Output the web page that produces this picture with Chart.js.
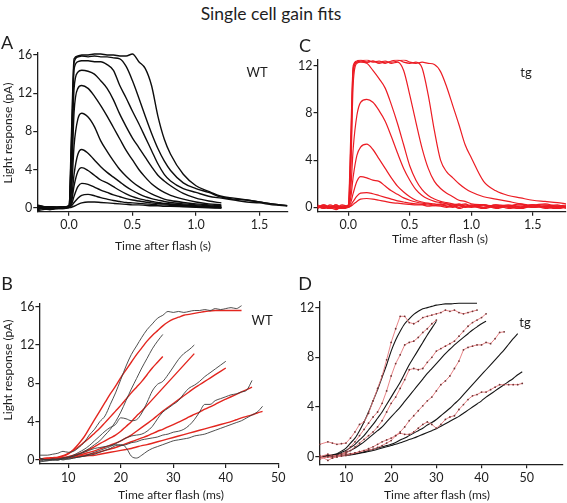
<!DOCTYPE html>
<html lang="en">
<head>
<meta charset="UTF-8">
<title>Single cell gain fits</title>
<script src="https://cdn.jsdelivr.net/npm/chart.js"></script>
<style>
  body { margin: 0; background: #fff; font-family: 'Lato', sans-serif; color: #1e1e1e; }
  #page { position: relative; width: 567px; height: 503px; overflow: hidden; background: #fff; }
  canvas { position: absolute; }
  .lbl { position: absolute; line-height: 1; white-space: nowrap; transform: translate(-50%, -50%); }
  .ttl { font-size: 17.5px; }
  .letter { font-size: 18px; }
  .tag { font-size: 13px; }
  .ax { font-size: 12px; }
  .rot { transform: translate(-50%, -50%) rotate(-90deg); }
</style>
</head>
<body>
<div id="page">
  <canvas id="chartA"></canvas>
  <canvas id="chartC"></canvas>
  <canvas id="chartB"></canvas>
  <canvas id="chartD"></canvas>

  <div class="lbl ttl" style="left:271px;top:14px">Single cell gain fits</div>
  <div class="lbl letter" style="left:7px;top:41.5px">A</div>
  <div class="lbl letter" style="left:305px;top:45px">C</div>
  <div class="lbl letter" style="left:7px;top:282.5px">B</div>
  <div class="lbl letter" style="left:305px;top:282.5px">D</div>
  <div class="lbl tag" style="left:257px;top:72px">WT</div>
  <div class="lbl tag" style="left:526px;top:72px">tg</div>
  <div class="lbl tag" style="left:262px;top:320px">WT</div>
  <div class="lbl tag" style="left:525px;top:322px">tg</div>
  <div class="lbl ax" style="left:163px;top:246px">Time after flash (s)</div>
  <div class="lbl ax" style="left:440px;top:239px">Time after flash (s)</div>
  <div class="lbl ax" style="left:171px;top:495px">Time after flash (ms)</div>
  <div class="lbl ax" style="left:437px;top:495px">Time after flash (ms)</div>
  <div class="lbl ax rot" style="left:8px;top:133px">Light response (pA)</div>
  <div class="lbl ax rot" style="left:8px;top:370px">Light response (pA)</div>
</div>
<script>
// ---- A: WT flash family (s, pA) ----
const tA = [-0.25, -0.15, -0.05, 0, 0.02, 0.04, 0.07, 0.1, 0.15, 0.2, 0.25, 0.3, 0.35, 0.4, 0.45, 0.5, 0.55, 0.6, 0.65, 0.7, 0.75, 0.8, 0.9, 1.0, 1.1, 1.2, 1.3, 1.4, 1.5, 1.6, 1.72];
const wt1 = [0.3, 0.0, -0.1, 0.0, 0.05, 0.15, 0.35, 0.5, 0.6, 0.6, 0.55, 0.5, 0.45, 0.4, 0.35, 0.3, 0.3, 0.25, 0.2, 0.2, 0.15, 0.15, 0.1, 0.05, 0.0, -0.05, null, null, null, null, null];
const wt2 = [-0.2, 0.1, 0.0, 0.05, 0.2, 0.55, 1.0, 1.3, 1.4, 1.25, 1.05, 0.9, 0.75, 0.65, 0.55, 0.5, 0.45, 0.4, 0.35, 0.3, 0.3, 0.25, 0.2, 0.1, 0.05, 0.0, null, null, null, null, null];
const wt3 = [0.0, -0.2, 0.1, 0.05, 0.35, 1.2, 2.2, 2.55, 2.45, 2.15, 1.85, 1.6, 1.35, 1.15, 0.95, 0.8, 0.7, 0.6, 0.5, 0.45, 0.4, 0.35, 0.25, 0.15, 0.1, 0.0, null, null, null, null, null];
const wt4 = [-0.3, -0.1, 0.0, 0.1, 0.6, 2.3, 3.8, 4.2, 3.9, 3.4, 2.9, 2.6, 2.2, 1.8, 1.45, 1.15, 0.95, 0.8, 0.65, 0.55, 0.45, 0.4, 0.3, 0.2, 0.1, 0.05, null, null, null, null, null];
const wt5 = [0.1, -0.2, 0.0, 0.1, 0.9, 3.5, 5.6, 6.1, 5.7, 5.0, 4.3, 3.7, 3.2, 2.7, 2.2, 1.8, 1.45, 1.15, 0.95, 0.8, 0.65, 0.55, 0.4, 0.3, 0.2, 0.1, null, null, null, null, null];
const wt6 = [0.2, 0.0, -0.1, 0.1, 1.8, 6.5, 9.3, 9.9, 9.5, 8.5, 7.0, 5.9, 4.9, 4.0, 3.3, 2.7, 2.2, 1.8, 1.45, 1.15, 0.9, 0.75, 0.55, 0.4, 0.3, 0.2, null, null, null, null, null];
const wt7 = [-0.1, 0.1, 0.0, 0.15, 3.0, 10.0, 12.5, 12.8, 12.5, 11.7, 10.7, 9.6, 8.4, 7.2, 6.0, 5.0, 4.0, 3.2, 2.5, 2.0, 1.6, 1.3, 0.9, 0.6, 0.4, 0.3, null, null, null, null, null];
const wt8 = [0.0, -0.1, 0.1, 0.2, 4.5, 12.5, 14.2, 14.4, 14.3, 14.0, 13.3, 12.5, 11.3, 9.8, 8.5, 7.3, 6.3, 5.3, 4.3, 3.4, 2.8, 2.3, 1.5, 1.0, 0.7, 0.5, null, null, null, null, null];
const wt9 = [0.1, 0.0, 0.0, 0.2, 6.0, 14.5, 15.3, 15.4, 15.4, 15.3, 15.3, 15.0, 14.4, 12.8, 11.5, 10.1, 8.8, 7.4, 6.0, 4.6, 3.5, 2.8, 2.0, 1.6, 1.2, 1.0, 0.8, 0.6, 0.5, 0.3, 0.2];
const wt10 = [-0.2, 0.1, 0.0, 0.1, 7.0, 15.2, 15.8, 15.9, 15.8, 15.9, 15.8, 15.8, 15.7, 15.6, 14.8, 13.3, 11.5, 9.6, 7.8, 6.2, 4.9, 3.9, 2.6, 2.0, 1.6, 1.1, 0.9, 0.8, 0.6, 0.4, 0.2];
const wt11 = [0.2, 0.0, 0.1, 0.2, 8.0, 15.6, 15.9, 16.0, 16.0, 16.1, 16.1, 16.0, 16.0, 15.9, 15.9, 16.1, 15.3, 14.6, 12.8, 9.6, 7.2, 5.6, 3.5, 2.3, 1.7, 1.2, 1.0, 0.8, 0.6, 0.4, 0.2];

// ---- C: tg flash family (s, pA) ----
const tC = [-0.25, -0.2, -0.15, -0.1, -0.05, 0, 0.02, 0.04, 0.07, 0.1, 0.15, 0.2, 0.25, 0.3, 0.35, 0.4, 0.45, 0.5, 0.55, 0.6, 0.65, 0.7, 0.75, 0.8, 0.85, 0.9, 0.95, 1.0, 1.1, 1.2, 1.3, 1.4, 1.5, 1.6, 1.7, 1.77];
const tg1 = [0.1, -0.1, 0.2, 0.0, -0.1, 0.0, 0.1, 0.25, 0.5, 0.7, 0.75, 0.7, 0.6, 0.5, 0.4, 0.35, 0.3, 0.25, 0.2, 0.2, 0.1, 0.15, 0.1, 0.0, 0.1, -0.1, 0.05, 0.1, -0.1, 0.1, 0.0, -0.1, 0.1, 0.0, -0.1, 0.0];
const tg2 = [-0.1, 0.2, 0.0, -0.2, 0.1, 0.0, 0.2, 0.5, 0.95, 1.2, 1.25, 1.15, 1.0, 0.85, 0.7, 0.55, 0.45, 0.35, 0.3, 0.25, 0.2, 0.15, 0.2, 0.1, 0.0, 0.15, 0.05, 0.0, 0.2, -0.1, 0.1, 0.0, 0.2, -0.1, 0.1, 0.0];
const tg3 = [0.2, 0.0, -0.1, 0.1, 0.0, 0.1, 0.4, 1.2, 2.2, 2.6, 2.5, 2.3, 2.2, 1.8, 1.4, 1.1, 0.8, 0.6, 0.45, 0.35, 0.3, 0.2, 0.3, 0.1, 0.2, 0.0, 0.2, 0.1, 0.0, 0.2, -0.1, 0.1, 0.0, 0.1, 0.2, -0.1];
const tg4 = [0.0, 0.1, 0.0, 0.2, -0.1, 0.1, 0.8, 2.6, 4.4, 5.1, 5.35, 4.9, 4.1, 3.3, 2.5, 1.8, 1.3, 0.9, 0.6, 0.45, 0.35, 0.3, 0.2, 0.3, 0.1, 0.2, 0.0, 0.1, 0.2, 0.0, 0.1, 0.3, 0.0, 0.1, -0.1, 0.1];
const tg5 = [0.1, -0.1, 0.1, 0.0, 0.2, 0.1, 1.5, 5.0, 7.8, 8.9, 9.15, 8.9, 8.2, 7.3, 6.0, 4.6, 3.3, 2.3, 1.5, 1.0, 0.7, 0.5, 0.4, 0.3, 0.2, 0.3, 0.1, 0.2, 0.0, 0.2, 0.1, -0.1, 0.2, 0.0, 0.1, 0.0];
const tg6 = [-0.1, 0.1, 0.0, 0.1, 0.0, 0.2, 3.0, 10.5, 12.2, 12.3, 12.2, 11.6, 10.9, 10.1, 8.7, 7.1, 5.3, 3.5, 2.3, 1.5, 1.0, 0.7, 0.5, 0.4, 0.3, 0.2, 0.3, 0.1, 0.2, 0.0, 0.1, 0.2, 0.0, 0.1, 0.0, 0.1];
const tg7 = [0.0, 0.2, -0.1, 0.0, 0.1, 0.1, 4.0, 11.5, 12.3, 12.4, 12.3, 12.4, 12.3, 12.4, 12.2, 12.3, 11.6, 9.5, 7.2, 5.0, 3.3, 2.2, 1.6, 1.2, 0.9, 0.6, 0.5, 0.3, 0.2, 0.1, 0.2, 0.0, 0.1, 0.2, 0.0, 0.1];
const tg8 = [0.1, 0.0, 0.1, -0.1, 0.0, 0.1, 5.0, 11.8, 12.3, 12.4, 12.5, 12.3, 12.4, 12.2, 12.4, 12.5, 12.3, 12.2, 12.3, 11.8, 9.5, 6.5, 4.0, 3.0, 2.5, 2.0, 1.6, 1.3, 0.9, 0.7, 0.5, 0.3, 0.2, 0.3, 0.1, 0.2];
const tg9 = [0.0, 0.1, 0.0, 0.2, 0.0, 0.1, 6.0, 12.0, 12.4, 12.5, 12.3, 12.4, 12.2, 12.3, 12.3, 12.4, 12.5, 12.3, 12.2, 12.3, 12.2, 12.1, 11.5, 10.2, 8.6, 7.0, 5.3, 4.2, 2.2, 1.4, 1.0, 0.8, 0.6, 0.5, 0.4, 0.3];

// ---- B: WT rising phase, records and fits (ms, pA) ----
const tB = [4.5, 6, 7, 8, 9, 10, 11, 12, 13, 14, 15, 16, 17, 18, 19, 20, 21, 22, 23, 24, 25, 26, 27, 28, 29, 30, 31, 32, 33, 34, 35, 36, 37, 38, 39, 40, 41, 42, 43, 44, 45, 46, 47];
const wtRec1 = [0.5, 0.5, 0.6, 0.7, 0.9, 0.8, 0.9, 1.3, 1.8, 2.6, 3.2, 4.0, 4.6, 5.8, 7.0, 8.4, 9.8, 11.0, 11.9, 12.8, 13.6, 14.2, 14.8, 15.1, 15.5, 15.4, 15.5, 15.4, 15.5, 15.6, 15.6, 15.7, 15.6, 15.8, 15.7, 15.8, 15.9, 15.8, 16.1];
const wtRec2 = [0.2, 0.0, 0.1, 0.1, 0.0, 0.2, 0.4, 0.6, 0.9, 1.2, 1.6, 2.0, 2.6, 3.2, 4.0, 5.0, 6.2, 7.4, 8.5, 9.6, 10.6, 11.6, 12.4, 13.1];
const wtRec3 = [-0.1, 0.0, 0.0, 0.1, 0.2, 0.3, 0.5, 0.8, 1.1, 1.5, 2.0, 2.5, 3.0, 3.4, 3.7, 4.4, 4.3, 4.1, 4.2, 4.9, 6.0, 7.2, 7.9, 8.2, 8.9, 9.7, 10.5, 11.1, 11.5, 12.0];
const wtRec4 = [0.1, 0.0, 0.0, 0.0, 0.1, 0.1, 0.2, 0.3, 0.4, 0.6, 0.8, 1.0, 1.2, 1.4, 1.7, 2.0, 2.3, 2.5, 2.6, 2.7, 3.0, 3.5, 4.3, 5.0, 5.4, 5.8, 6.2, 6.9, 7.5, 7.8, 8.2, 8.7, 9.1, 9.5, 9.9, 10.3];
const wtRec5 = [0.2, 0.0, 0.1, 0.0, 0.2, 0.3, 0.4, 0.6, 0.8, 1.0, 1.2, 1.3, 1.4, 1.5, 1.6, 1.5, 1.6, 1.8, 1.9, 2.1, 2.2, 2.3, 2.4, 2.6, 2.7, 2.9, 3.0, 3.2, 3.6, 4.2, 5.0, 5.8, 5.8, 6.2, 6.4, 6.6, 6.8, 6.9, 7.1, 7.3, 8.3];
const wtRec6 = [-0.2, -0.1, 0.0, 0.0, 0.1, 0.1, 0.2, 0.3, 0.4, 0.5, 0.6, 0.8, 1.0, 1.2, 1.5, 1.6, 1.3, 0.4, 0.2, 0.5, 0.9, 1.2, 1.4, 1.6, 1.8, 2.0, 2.1, 2.2, 2.3, 2.5, 2.6, 2.7, 2.9, 3.1, 3.3, 3.5, 3.7, 3.9, 4.1, 4.4, 4.7, 5.0, 5.6];
const wtFit1 = [0.1, 0.15, 0.15, 0.25, 0.4, 0.63, 1.1, 1.7, 2.4, 3.3, 4.2, 5.1, 6.0, 6.9, 7.7, 8.6, 9.4, 10.2, 11.0, 11.7, 12.4, 13.0, 13.5, 14.0, 14.4, 14.7, 14.9, 15.1, 15.2, 15.3, 15.4, 15.5, 15.55, 15.6, 15.6, 15.6, 15.6, 15.6, 15.6];
const wtFit2 = [0.1, 0.2, 0.25, 0.3, 0.45, 0.7, 1.0, 1.4, 1.85, 2.3, 2.8, 3.3, 3.9, 4.5, 5.1, 5.7, 6.35, 7.0, 7.6, 8.2, 8.9, 9.6, 10.2, 10.8];
const wtFit3 = [0.1, 0.1, 0.15, 0.2, 0.25, 0.35, 0.5, 0.65, 0.85, 1.1, 1.4, 1.7, 2.0, 2.3, 2.6, 3.0, 3.5, 4.0, 4.6, 5.1, 5.7, 6.3, 6.9, 7.5, 8.1, 8.7, 9.3, 9.9, 10.5, 11.1];
const wtFit4 = [0.05, 0.1, 0.15, 0.2, 0.25, 0.3, 0.4, 0.5, 0.65, 0.8, 0.95, 1.15, 1.35, 1.55, 1.75, 2.0, 2.3, 2.6, 3.0, 3.4, 3.8, 4.2, 4.65, 5.1, 5.5, 5.9, 6.3, 6.7, 7.1, 7.5, 7.85, 8.2, 8.55, 8.9, 9.25, 9.6];
const wtFit5 = [0.05, 0.1, 0.1, 0.15, 0.2, 0.25, 0.3, 0.4, 0.5, 0.6, 0.7, 0.85, 1.0, 1.15, 1.3, 1.5, 1.7, 1.9, 2.1, 2.3, 2.5, 2.75, 3.0, 3.2, 3.45, 3.7, 3.95, 4.2, 4.5, 4.75, 5.0, 5.3, 5.55, 5.8, 6.1, 6.35, 6.6, 6.85, 7.1, 7.35, 7.6];
const wtFit6 = [0.1, 0.1, 0.15, 0.2, 0.2, 0.25, 0.3, 0.35, 0.4, 0.45, 0.5, 0.6, 0.7, 0.8, 0.9, 1.0, 1.1, 1.2, 1.35, 1.5, 1.6, 1.75, 1.9, 2.05, 2.2, 2.35, 2.5, 2.65, 2.8, 2.95, 3.1, 3.25, 3.4, 3.55, 3.7, 3.85, 4.0, 4.2, 4.4, 4.55, 4.7, 4.9, 5.07];

// ---- D: tg rising phase, records and fits (ms, pA) ----
const tD = [4.2, 6, 7, 8, 9, 10, 11, 12, 13, 14, 15, 16, 17, 18, 19, 20, 21, 22, 23, 24, 25, 26, 27, 28, 29, 30, 31, 32, 33, 34, 35, 36, 37, 38, 39, 40, 41, 42, 43, 44, 45, 46, 47, 48, 49];
const tgRec1 = [1.0, 1.2, 1.1, 1.0, 1.05, 1.1, 1.5, 2.0, 2.6, 2.8, 3.5, 4.5, 5.5, 6.5, 7.8, 9.2, 10.3, 11.3, 11.3, 10.8, 10.7, 10.9, 11.2, 11.3, 11.4, 11.5, 11.6, 11.8, 11.7, 11.8, 11.6, 11.5, 11.6, 11.7, 11.8];
const tgRec2 = [-0.2, 0.0, -0.1, 0.0, 0.2, 0.4, 0.8, 1.2, 1.7, 2.2, 2.7, 3.2, 3.6, 4.3, 5.3, 6.5, 7.5, 8.2, 9.0, 9.2, 9.3, 9.6, 10.0, 10.3, 10.7, 11.0];
const tgRec3 = [0.0, 0.2, 0.1, 0.1, 0.2, 0.3, 0.5, 0.8, 1.1, 1.4, 1.7, 2.0, 2.4, 2.9, 3.6, 4.3, 4.8, 5.5, 6.2, 7.0, 7.1, 7.0, 7.1, 7.6, 8.0, 8.5, 8.7, 8.9, 9.1, 9.3, 9.7, 10.1, 10.5, 10.8, 11.0, 11.2, 11.5];
const tgRec4 = [-0.1, 0.0, 0.0, 0.0, 0.05, 0.1, 0.2, 0.3, 0.4, 0.5, 0.65, 0.8, 1.0, 1.2, 1.35, 1.5, 1.7, 2.0, 2.4, 2.9, 3.3, 3.7, 4.1, 4.5, 4.8, 5.3, 5.8, 6.1, 6.5, 7.1, 7.7, 8.6, 8.8, 8.9, 9.0, 9.0, 9.2, 9.1, 9.5, 10.0, 10.05];
const tgRec5 = [0.1, -0.3, -0.1, 0.0, 0.1, 0.2, 0.25, 0.3, 0.4, 0.5, 0.55, 0.6, 0.75, 0.9, 1.1, 1.3, 1.7, 1.9, 1.8, 1.8, 2.0, 2.3, 2.6, 2.8, 2.6, 2.3, 2.6, 3.0, 3.2, 3.3, 3.8, 4.2, 4.6, 4.9, 5.0, 5.2, 5.2, 5.4, 5.6, 5.8, 5.8, 5.8, 5.8, 5.8, 5.9];
const tgFit1 = [0.0, 0.1, 0.15, 0.25, 0.45, 0.7, 1.1, 1.5, 2.1, 2.8, 3.6, 4.5, 5.4, 6.4, 7.4, 8.5, 9.4, 10.1, 10.7, 11.1, 11.45, 11.7, 11.9, 12.0, 12.1, 12.2, 12.25, 12.3, 12.3, 12.33, 12.35, 12.35, 12.35, 12.35, 12.35];
const tgFit2 = [0.0, 0.05, 0.1, 0.2, 0.35, 0.5, 0.75, 1.0, 1.35, 1.7, 2.15, 2.6, 3.1, 3.6, 4.2, 4.8, 5.4, 6.0, 6.7, 7.4, 8.0, 8.6, 9.2, 9.8, 10.35, 10.9];
const tgFit3 = [0.0, 0.05, 0.1, 0.15, 0.25, 0.35, 0.5, 0.7, 0.95, 1.2, 1.5, 1.8, 2.1, 2.4, 2.8, 3.2, 3.6, 4.0, 4.45, 4.9, 5.35, 5.8, 6.25, 6.7, 7.1, 7.5, 7.9, 8.3, 8.65, 9.0, 9.3, 9.6, 9.9, 10.2, 10.45, 10.7, 10.9];
const tgFit4 = [0.0, 0.02, 0.05, 0.08, 0.1, 0.15, 0.2, 0.25, 0.3, 0.4, 0.5, 0.6, 0.7, 0.8, 0.9, 1.0, 1.15, 1.35, 1.5, 1.7, 1.9, 2.1, 2.3, 2.55, 2.75, 3.0, 3.3, 3.6, 3.9, 4.25, 4.6, 5.0, 5.4, 5.8, 6.2, 6.6, 7.0, 7.4, 7.8, 8.2, 8.6, 9.05, 9.5, 9.9];
const tgFit5 = [0.0, 0.02, 0.04, 0.06, 0.08, 0.1, 0.15, 0.2, 0.28, 0.35, 0.42, 0.5, 0.6, 0.7, 0.8, 0.9, 1.0, 1.12, 1.25, 1.38, 1.5, 1.65, 1.8, 1.95, 2.1, 2.25, 2.45, 2.65, 2.85, 3.05, 3.25, 3.5, 3.75, 4.0, 4.25, 4.5, 4.8, 5.05, 5.3, 5.55, 5.8, 6.05, 6.3, 6.6, 6.84];

// tick labels
const secTicks = [0, 0.5, 1, 1.5];
const msTicks = [10, 20, 30, 40, 50];
const wtTicks = [0, 4, 8, 12, 16];
const tgTicks = [0, 4, 8, 12];

function pts(xs, ys) {
  return ys.map((y, i) => ({ x: xs[i], y: y }));
}

function trace(xs, ys, color, width, extra) {
  return Object.assign({
    data: pts(xs, ys),
    borderColor: color,
    borderWidth: width,
    pointRadius: 0,
    fill: false,
    cubicInterpolationMode: 'monotone'
  }, extra || {});
}

const axisCol = '#1e1e1e';
const tickFont = { family: 'Lato', size: 12.5 };

// box = canvas [left, top, width, height]; area = plot [left, top, right, bottom] in page px
function panel(id, box, area, xr, yr, xTicks, yTicks, xFmt, datasets) {
  const cv = document.getElementById(id);
  cv.width = box[2];
  cv.height = box[3];
  cv.style.left = box[0] + 'px';
  cv.style.top = box[1] + 'px';
  const grid = { drawOnChartArea: false, drawTicks: true, tickLength: 4, color: axisCol, lineWidth: 1.2 };
  const border = { display: true, color: axisCol, width: 1.3 };
  return new Chart(cv, {
    type: 'line',
    data: { datasets: datasets },
    options: {
      responsive: false,
      animation: false,
      devicePixelRatio: 1,
      layout: {
        autoPadding: false,
        padding: { left: 0, top: area[1] - box[1], right: box[0] + box[2] - area[2], bottom: 0 }
      },
      plugins: { legend: { display: false }, tooltip: { enabled: false } },
      scales: {
        x: {
          type: 'linear', min: xr[0], max: xr[1], grid: grid, border: border,
          afterFit: s => { s.height = box[1] + box[3] - area[3]; },
          afterBuildTicks: s => { s.ticks = xTicks.map(v => ({ value: v })); },
          ticks: { font: tickFont, color: axisCol, padding: 2, maxRotation: 0, autoSkip: false, callback: xFmt }
        },
        y: {
          type: 'linear', min: yr[0], max: yr[1], grid: grid, border: border,
          afterFit: s => { s.width = area[0] - box[0]; },
          afterBuildTicks: s => { s.ticks = yTicks.map(v => ({ value: v })); },
          ticks: { font: tickFont, color: axisCol, padding: 1, autoSkip: false }
        }
      }
    }
  });
}

const sec = v => v.toFixed(1);
const ms = v => String(v);

const black = '#0d0d0d';
const red = '#ec1c24';

panel('chartA', [0, 30, 292, 240], [37.25, 53.1, 287.4, 211.7], [-0.25, 1.72], [-0.42, 16.2], secTicks, wtTicks, sec,
  [wt1, wt2, wt3, wt4, wt5, wt6, wt7, wt8, wt9, wt10, wt11].map(ys => trace(tA, ys, black, 1.4)));

panel('chartC', [283, 30, 284, 240], [317.55, 59.8, 566, 211.7], [-0.25, 1.77], [-0.37, 12.5], secTicks, tgTicks, sec,
  [tg1, tg2, tg3, tg4, tg5, tg6, tg7, tg8, tg9].map(ys => trace(tC, ys, red, 1.2)));

panel('chartB', [0, 280, 292, 223], [39.4, 303.8, 278.3, 464], [4.5, 50], [-0.42, 16.3], msTicks, wtTicks, ms,
  [wtRec1, wtRec2, wtRec3, wtRec4, wtRec5, wtRec6].map(ys => trace(tB, ys, '#3c3c3c', 0.9))
    .concat([wtFit1, wtFit2, wtFit3, wtFit4, wtFit5, wtFit6].map(ys => trace(tB, ys, '#e3261f', 1.4))));

panel('chartD', [283, 280, 284, 223], [319.3, 301.4, 562.9, 464.2], [4.1, 58], [-0.6, 12.5], msTicks, tgTicks, ms,
  [tgRec1, tgRec2, tgRec3, tgRec4, tgRec5].map(ys => trace(tD, ys, '#e4777a', 0.9,
    { pointRadius: 0.9, pointBorderWidth: 0, pointBackgroundColor: '#6e3434', cubicInterpolationMode: 'default', tension: 0 }))
    .concat([tgFit1, tgFit2, tgFit3, tgFit4, tgFit5].map(ys => trace(tD, ys, '#151515', 1.1))));
</script>
</body>
</html>
